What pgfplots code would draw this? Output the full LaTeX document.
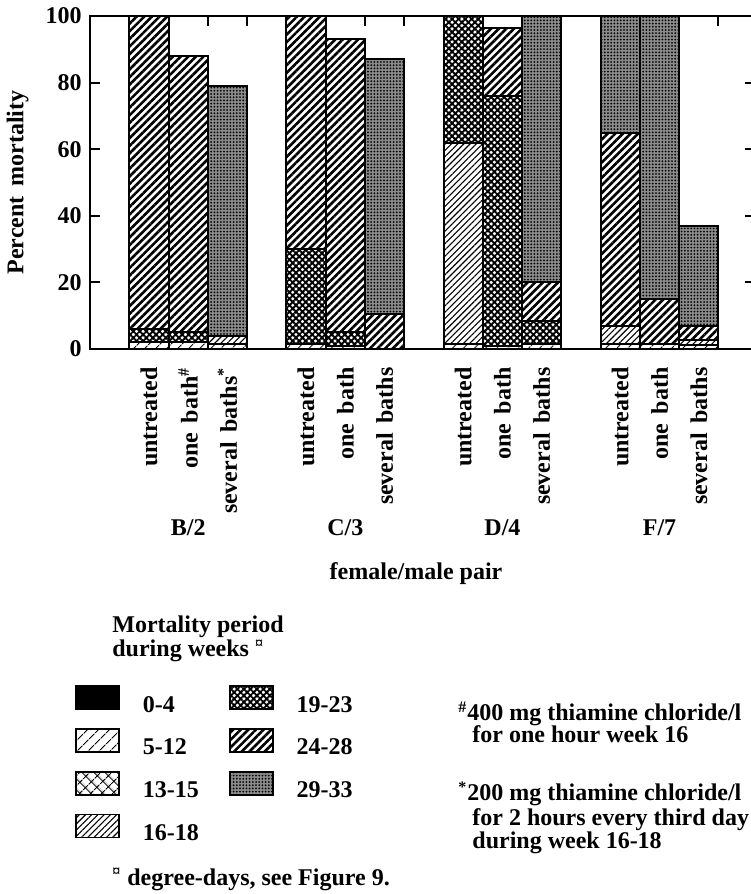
\documentclass[border=0pt]{standalone}
\usepackage{fontspec}
\setmainfont{Liberation Serif}
\usepackage{pgfplots}
\usepackage{pgfplotstable}
\pgfplotsset{compat=1.18}
\usetikzlibrary{patterns,patterns.meta}
\newcommand\F{\fontsize{12}{11.8}\selectfont\bfseries}
\tikzset{
 p04/.style={draw=black,fill=black},
 p512/.style={draw=black,pattern={Lines[angle=45,distance=4pt,line width=0.6pt]}},
 p1315/.style={draw=black,pattern={Hatch[angle=45,distance=4pt,line width=0.6pt]}},
 p1618/.style={draw=black,pattern={Lines[angle=45,distance=2.2pt,line width=0.55pt]}},
 p1923/.style={draw=black,pattern={Hatch[angle=45,distance=2.3pt,line width=0.95pt]}},
 p2428/.style={draw=black,pattern={Lines[angle=45,distance=2.7pt,line width=1.3pt]}},
 p2933/.style={draw=black,fill=black!45,postaction={pattern={Dots[distance=1.6pt,radius=0.5pt]}}},
 t/.style={anchor=base west,inner sep=0pt},
 cl/.style={rotate=90,anchor=east,inner sep=0pt},
}
\pgfplotstableread{
x    a  b    c  d    e    f    g
1.5  0  2    0  0    4    94   0
2.5  0  2    0  0    3    83   0
3.5  0  1.5  0  2.5  0    0    75
5.5  0  1.5  0  0    28.5 70   0
6.5  0  1    0  0    4    88   0
7.5  0  0    0  0    0    10.5 76.5
9.5  0  1.5  0  60.5 38   0    0
10.5 0  1    0  0    75   20.5 0
11.5 0  1.5  0  0    7    11.5 80
13.5 0  1.5  0  5.5  0    58   35
14.5 0  1.5  0  0    0    13.5 85
15.5 0  1.2  0  1.5  0    4.3  30
}\data
\begin{document}
\F
\begin{tikzpicture}[font=\F]
\useasboundingbox (0,0) rectangle (375pt,447pt);
\begin{axis}[
 at={(45pt,272.5pt)}, anchor=south west,
 scale only axis, width=332.5pt, height=166.5pt,
 xmin=0, xmax=16.93, ymin=0, ymax=100,
 ybar stacked, bar width=1,
 clip=false,
 axis line style={line width=1.1pt},
 tick style={line width=1pt,black},
 tick align=inside, major tick length=5pt,
 tick pos=both, yticklabel pos=left, xticklabel pos=bottom,
 ytick={0,20,...,100},
 /pgf/number format/assume math mode=true,
 tick label style={font=\F},
 xtick={1,...,16}, xticklabels={},
 ylabel={Percent\hspace{0.4em}mortality},
 ylabel style={at={(axis description cs:-0.109,0.5)},anchor=center,font=\F},
 legend columns=2,
 legend image code/.code={\draw[#1,line width=0.8pt] (0pt,-1.6pt) rectangle (21.5pt,9.9pt);},
 legend style={at={(axis description cs:-0.0226,-1.009)},anchor=north west,
   draw=none,fill=none,inner sep=0pt,font=\F,legend cell align=left,
   row sep=6.2pt, nodes={inner sep=0pt},
   /tikz/every odd column/.append style={column sep=11.5pt},
   /tikz/every even column/.append style={column sep=15pt}},
]
\addplot[forget plot,p04,line width=1pt] table[x=x,y=a]{\data};
\addplot[forget plot,p512,line width=1pt] table[x=x,y=b]{\data};
\addplot[forget plot,p1315,line width=1pt] table[x=x,y=c]{\data};
\addplot[forget plot,p1618,line width=1pt] table[x=x,y=d]{\data};
\addplot[forget plot,p1923,line width=1pt] table[x=x,y=e]{\data};
\addplot[forget plot,p2428,line width=1pt] table[x=x,y=f]{\data};
\addplot[forget plot,p2933,line width=1pt] table[x=x,y=g]{\data};
\addlegendimage{p04}\addlegendentry{0-4}
\addlegendimage{p1923}\addlegendentry{19-23}
\addlegendimage{p512}\addlegendentry{5-12}
\addlegendimage{p2428}\addlegendentry{24-28}
\addlegendimage{p1315}\addlegendentry{13-15}
\addlegendimage{p2933}\addlegendentry{29-33}
\addlegendimage{p1618}\addlegendentry{16-18}
\node[cl] at ([yshift=-9pt]axis cs:1.5,0) {untreated};
\node[cl] at ([yshift=-9pt]axis cs:2.5,0) {one\hspace{0.4em}bath\textsuperscript{\#}};
\node[cl] at ([yshift=-9pt]axis cs:3.5,0) {several\hspace{0.4em}baths\textsuperscript{*}};
\node[cl] at ([yshift=-9pt]axis cs:5.5,0) {untreated};
\node[cl] at ([yshift=-9pt]axis cs:6.5,0) {one\hspace{0.4em}bath};
\node[cl] at ([yshift=-9pt]axis cs:7.5,0) {several\hspace{0.4em}baths};
\node[cl] at ([yshift=-9pt]axis cs:9.5,0) {untreated};
\node[cl] at ([yshift=-9pt]axis cs:10.5,0) {one\hspace{0.4em}bath};
\node[cl] at ([yshift=-9pt]axis cs:11.5,0) {several\hspace{0.4em}baths};
\node[cl] at ([yshift=-9pt]axis cs:13.5,0) {untreated};
\node[cl] at ([yshift=-9pt]axis cs:14.5,0) {one\hspace{0.4em}bath};
\node[cl] at ([yshift=-9pt]axis cs:15.5,0) {several\hspace{0.4em}baths};
\node at (axis cs:2.5,-53.7) {B/2};
\node at (axis cs:6.5,-53.7) {C/3};
\node at (axis cs:10.5,-53.7) {D/4};
\node at (axis cs:14.5,-53.7) {F/7};
\node at (axis cs:8.3,-67.3) {female/male pair};
\end{axis}
\node[t] at (56pt,130.5pt) {Mortality period};
\node[t] at (56pt,118.5pt) {during weeks \textsuperscript{¤}};
\node[t] at (229pt,86.5pt) {\textsuperscript{\#}400 mg thiamine chloride/l};
\node[t] at (236pt,75.5pt) {for one hour week 16};
\node[t] at (229pt,46.5pt) {\textsuperscript{*}200 mg thiamine chloride/l};
\node[t] at (236pt,34pt) {for 2 hours every third day};
\node[t] at (236pt,23pt) {during week 16-18};
\node[t] at (56pt,4.5pt) {\textsuperscript{¤} degree-days, see Figure 9.};
\end{tikzpicture}
\end{document}
